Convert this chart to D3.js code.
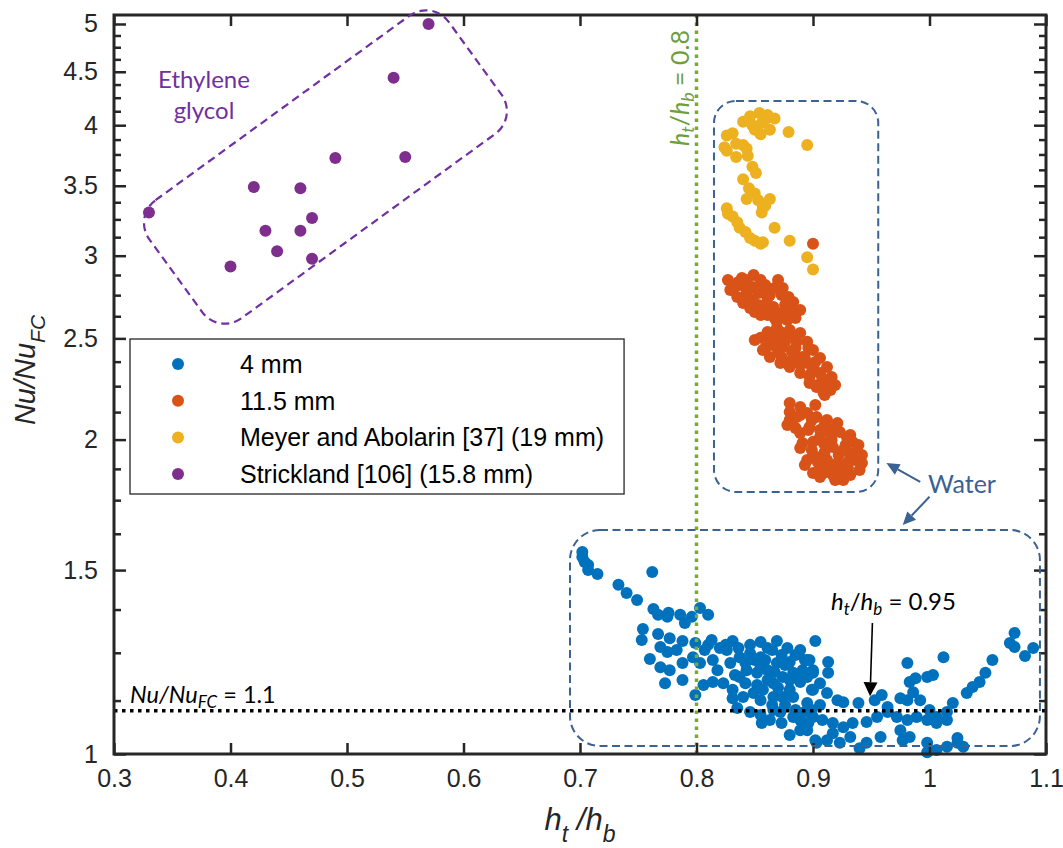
<!DOCTYPE html>
<html><head><meta charset="utf-8">
<script src="https://cdn.jsdelivr.net/npm/d3@7"></script>
<style>body{margin:0;background:#fff}svg{display:block}</style>
</head><body><svg id="c" width="1063" height="848"></svg>
<script>
// ---------------- data ----------------
const xTicks = [0.3, 0.4, 0.5, 0.6, 0.7, 0.8, 0.9, 1, 1.1];
const yTicks = [1, 1.5, 2, 2.5, 3, 3.5, 4, 4.5, 5];
const yMinor = [1.125,1.25,1.375,1.625,1.75,1.875,2.125,2.25,2.375,2.625,2.75,2.875,3.125,3.25,3.375,3.625,3.75,3.875,4.125,4.25,4.375,4.625,4.75,4.875];
const seriesNames = ["4 mm", "11.5 mm", "Meyer and Abolarin [37] (19 mm)", "Strickland [106] (15.8 mm)"];
const seriesColors = ["#0072bd", "#d95319", "#edb120", "#7e2f8e"];

const data4mm = [
[0.702,1.561],[0.702,1.544],[0.704,1.527],[0.707,1.517],[0.707,1.500],[0.715,1.487],[0.762,1.494],[0.733,1.452],[0.740,1.426],[0.749,1.404],
[0.763,1.377],[0.767,1.359],[0.776,1.365],[0.775,1.353],[0.786,1.359],[0.790,1.335],[0.796,1.353],[0.803,1.380],[0.810,1.359],
[0.754,1.317],[0.753,1.286],[0.767,1.303],[0.777,1.291],[0.788,1.283],[0.799,1.277],[0.810,1.272],[0.831,1.283],[0.869,1.283],[0.902,1.283],
[0.769,1.266],[0.775,1.252],[0.783,1.258],[0.760,1.233],[0.769,1.211],[0.777,1.203],[0.773,1.169],[0.788,1.177],[0.788,1.222],[0.797,1.238],
[0.799,1.139],[0.806,1.164],[0.803,1.222],[0.814,1.230],[0.818,1.203],[0.826,1.258],[0.820,1.263],[0.814,1.172],[0.823,1.169],[0.829,1.222],
[0.837,1.238],[0.846,1.249],[0.855,1.238],[0.861,1.263],[0.878,1.263],[0.889,1.258],[0.895,1.230],[0.831,1.152],[0.831,1.131],[0.840,1.134],
[0.849,1.144],[0.857,1.152],[0.866,1.169],[0.874,1.185],[0.883,1.196],[0.891,1.203],[0.843,1.203],[0.852,1.196],[0.861,1.203],[0.869,1.222],
[0.880,1.225],[0.835,1.107],[0.846,1.097],[0.855,1.090],[0.856,1.071],[0.866,1.102],[0.873,1.071],[0.880,1.043],[0.889,1.054],[0.883,1.085],
[0.896,1.071],[0.900,1.085],[0.895,1.119],[0.883,1.134],[0.900,1.152],[0.902,1.031],[0.837,1.185],[0.866,1.134],[0.874,1.134],[0.900,1.196],
[0.880,1.152],[0.855,1.211],
[0.897,1.230],[0.913,1.225],[0.913,1.196],[0.900,1.203],[0.895,1.185],[0.906,1.169],[0.912,1.144],[0.921,1.126],[0.926,1.121],[0.939,1.119],
[0.953,1.126],[0.959,1.139],[0.964,1.109],[0.975,1.131],[0.981,1.126],[0.981,1.222],[0.983,1.172],[0.988,1.182],[0.998,1.185],[1.003,1.190],
[1.012,1.238],[0.986,1.146],[0.992,1.126],[1.000,1.102],[1.006,1.085],[1.015,1.097],[1.020,1.119],[1.032,1.144],[1.037,1.159],[1.043,1.172],
[1.048,1.196],[1.054,1.230],[1.069,1.277],[1.073,1.306],[1.073,1.266],[1.082,1.241],[1.089,1.263],
[0.889,1.078],[0.895,1.054],[0.903,1.025],[0.917,1.071],[0.926,1.061],[0.934,1.071],[0.946,1.073],[0.955,1.085],[0.964,1.097],[0.972,1.085],
[0.981,1.078],[0.989,1.085],[0.998,1.078],[1.006,1.071],[1.015,1.078],[0.917,1.047],[0.932,1.038],[0.946,1.025],[0.958,1.038],[0.975,1.054],
[0.977,1.031],[0.983,1.038],[0.998,1.025],[1.006,1.009],[1.015,1.016],[1.024,1.025],[1.029,1.016],[0.998,1.004],[1.024,1.036],[0.940,1.013],
[0.912,1.031],[0.923,1.025],
[0.807,1.258],[0.813,1.286],[0.825,1.272],[0.836,1.263],[0.846,1.272],[0.855,1.280],[0.865,1.258],[0.873,1.244],[0.885,1.244],[0.842,1.222],
[0.850,1.230],[0.859,1.230],[0.867,1.198],[0.876,1.217],[0.886,1.190],[0.893,1.230],[0.833,1.190],[0.842,1.169],[0.852,1.164],[0.861,1.177],
[0.870,1.157],[0.880,1.177],[0.889,1.172],[0.899,1.152],[0.855,1.126],[0.865,1.114],[0.876,1.114],[0.885,1.102],[0.893,1.097],[0.899,1.102],
[0.906,1.114],[0.908,1.078],[0.863,1.078],[0.872,1.097]
];

const data11mm = [
[0.827,2.843],[0.831,2.781],[0.839,2.856],[0.849,2.875],[0.855,2.843],[0.835,2.739],[0.840,2.703],[0.846,2.673],[0.850,2.650],[0.843,2.769],
[0.853,2.763],[0.861,2.733],[0.870,2.843],[0.874,2.794],[0.879,2.739],[0.883,2.709],[0.889,2.662],[0.866,2.679],[0.872,2.644],[0.880,2.662],
[0.869,2.592],[0.878,2.603],[0.885,2.615],[0.861,2.781],[0.837,2.812],[0.857,2.794],
[0.829,2.781],[0.836,2.831],[0.843,2.843],[0.848,2.800],[0.855,2.781],[0.842,2.739],[0.848,2.721],[0.853,2.691],[0.859,2.691],[0.863,2.751],
[0.867,2.794],[0.873,2.751],[0.876,2.691],[0.882,2.650],[0.855,2.632],[0.861,2.632],[0.867,2.615],[0.844,2.781],[0.833,2.806],[0.859,2.812],
[0.850,2.491],[0.861,2.536],[0.869,2.558],[0.880,2.547],[0.889,2.530],[0.895,2.481],[0.900,2.437],[0.906,2.394],[0.912,2.347],[0.916,2.296],
[0.919,2.256],[0.909,2.217],[0.903,2.246],[0.897,2.296],[0.889,2.316],[0.880,2.347],[0.872,2.368],[0.863,2.399],[0.857,2.437],[0.866,2.475],
[0.874,2.453],[0.883,2.437],[0.891,2.399],[0.900,2.347],[0.878,2.508],[0.869,2.508],[0.906,2.316],[0.886,2.383],[0.895,2.368],
[0.855,2.503],[0.861,2.519],[0.872,2.536],[0.880,2.519],[0.865,2.464],[0.876,2.481],[0.886,2.481],[0.896,2.448],[0.859,2.448],[0.870,2.426],
[0.882,2.426],[0.893,2.394],[0.902,2.373],[0.879,2.373],[0.889,2.358],[0.899,2.321],[0.908,2.291],[0.913,2.256],[0.904,2.256],[0.897,2.266],
[0.910,2.207],[0.915,2.231],[0.863,2.491],[0.885,2.448],[0.873,2.399],
[0.880,2.168],[0.889,2.149],[0.878,2.065],[0.886,2.102],[0.895,2.121],[0.903,2.102],[0.912,2.088],[0.921,2.074],[0.889,2.029],[0.897,2.056],
[0.906,2.043],[0.915,2.029],[0.923,2.034],[0.929,2.012],[0.934,1.990],[0.891,1.985],[0.900,1.990],[0.909,1.985],[0.917,1.968],[0.926,1.955],
[0.934,1.942],[0.895,1.912],[0.903,1.925],[0.912,1.912],[0.921,1.899],[0.929,1.899],[0.942,1.899],[0.900,1.858],[0.909,1.858],[0.917,1.850],
[0.926,1.842],[0.926,1.830],[0.906,1.883],[0.932,1.925],
[0.880,2.125],[0.889,2.112],[0.899,2.088],[0.910,2.065],[0.919,2.052],[0.932,2.020],[0.939,1.976],[0.942,1.933],[0.885,2.052],[0.896,2.043],
[0.906,2.012],[0.916,1.998],[0.928,1.976],[0.936,1.912],[0.889,1.963],[0.899,1.955],[0.910,1.946],[0.922,1.933],[0.930,1.878],[0.893,1.891],
[0.904,1.904],[0.915,1.891],[0.923,1.870],[0.932,1.850],[0.906,1.842],[0.919,1.830],[0.940,1.870],[0.880,2.088],[0.902,2.158],
[0.900,3.080]
];

const dataMeyer = [
[0.840,4.03],[0.846,4.08],[0.854,4.11],[0.861,4.09],[0.867,4.06],[0.848,4.00],[0.856,4.02],[0.863,3.96],[0.855,3.92],[0.850,3.96],
[0.859,4.05],[0.879,3.94],[0.895,3.83],[0.826,3.91],[0.831,3.93],[0.824,3.81],[0.826,3.78],[0.834,3.84],[0.840,3.83],[0.843,3.80],
[0.834,3.73],[0.844,3.74],[0.848,3.65],[0.851,3.60],[0.840,3.55],[0.845,3.48],[0.843,3.40],[0.850,3.44],[0.853,3.39],[0.863,3.40],
[0.857,3.34],[0.856,3.30],[0.859,3.35],[0.826,3.33],[0.827,3.29],[0.831,3.27],[0.835,3.23],[0.837,3.19],[0.842,3.16],[0.846,3.12],
[0.850,3.10],[0.855,3.08],[0.857,3.09],[0.867,3.19],[0.880,3.10],[0.895,2.99],[0.900,2.91]
];

const dataStrick = [
[0.33,3.30],[0.40,2.93],[0.42,3.49],[0.43,3.17],[0.44,3.03],[0.46,3.48],[0.46,3.17],[0.47,3.26],[0.47,2.98],[0.49,3.72],[0.54,4.44],[0.55,3.73],[0.57,5.00]
];

// ---------------- chart ----------------
const svg = d3.select("#c");
const L = 114, R = 1046, T = 15, B = 754;
const x = d3.scaleLinear().domain([0.3, 1.1]).range([L, R]);
const y = d3.scaleLog().domain([1, 5.1]).range([B, T]);
const axisCol = "#262626";
const tickFont = "'Liberation Sans', Arial, Helvetica, sans-serif";
const annFont = "Lato, 'Open Sans', sans-serif";
const fmt = d => String(+d.toFixed(2));
const R0 = 6;

// points
const allSeries = [data4mm, data11mm, dataMeyer, dataStrick];
allSeries.forEach((s, i) => {
  svg.append("g").selectAll("circle").data(s).join("circle")
    .attr("cx", d => x(d[0])).attr("cy", d => y(d[1])).attr("r", R0)
    .attr("fill", seriesColors[i]);
});

// reference lines
svg.append("line").attr("x1", x(0.8)).attr("x2", x(0.8)).attr("y1", B).attr("y2", T)
  .attr("stroke", "#77ac30").attr("stroke-width", 3.5).attr("stroke-dasharray", "3.5,4.5");
svg.append("line").attr("x1", L).attr("x2", R).attr("y1", y(1.1)).attr("y2", y(1.1))
  .attr("stroke", "#000").attr("stroke-width", 3.5).attr("stroke-dasharray", "3.5,4.5");

// axes
const gx = svg.append("g").attr("transform", `translate(0,${B})`)
  .call(d3.axisBottom(x).tickValues(xTicks).tickFormat(fmt).tickSizeInner(-11).tickSizeOuter(0).tickPadding(15));
const gxt = svg.append("g").attr("transform", `translate(0,${T})`)
  .call(d3.axisTop(x).tickValues(xTicks).tickFormat("").tickSizeInner(-11).tickSizeOuter(0));
const gy = svg.append("g").attr("transform", `translate(${L},0)`)
  .call(d3.axisLeft(y).tickValues(yTicks).tickFormat(fmt).tickSizeInner(-12).tickSizeOuter(0).tickPadding(16));
const gym = svg.append("g").attr("transform", `translate(${L},0)`)
  .call(d3.axisLeft(y).tickValues(yMinor).tickFormat("").tickSizeInner(-7).tickSizeOuter(0));
const gyr = svg.append("g").attr("transform", `translate(${R},0)`)
  .call(d3.axisRight(y).tickValues(yTicks).tickFormat("").tickSizeInner(-12).tickSizeOuter(0));
const gyrm = svg.append("g").attr("transform", `translate(${R},0)`)
  .call(d3.axisRight(y).tickValues(yMinor).tickFormat("").tickSizeInner(-7).tickSizeOuter(0));
[gx, gxt, gy, gym, gyr, gyrm].forEach(g => {
  g.select(".domain").remove();
  g.selectAll(".tick line").attr("stroke", axisCol).attr("stroke-width", 2.5);
  g.selectAll(".tick text").attr("fill", axisCol).style("font-family", tickFont).style("font-size", "25px");
});
svg.append("rect").attr("x", L).attr("y", T).attr("width", R - L).attr("height", B - T)
  .attr("fill", "none").attr("stroke", axisCol).attr("stroke-width", 3);

// axis labels
const xl = svg.append("text").attr("x", (L + R) / 2).attr("y", 830).attr("text-anchor", "middle")
  .style("font-family", tickFont).style("font-size", "31px").style("font-style", "italic").attr("fill", axisCol);
xl.append("tspan").text("h");
xl.append("tspan").text("t").attr("dy", 12).style("font-size", "23px");
xl.append("tspan").text(" /h").attr("dy", -12);
xl.append("tspan").text("b").attr("dy", 12).style("font-size", "23px");

const yl = svg.append("text").attr("transform", `translate(35,370) rotate(-90)`).attr("text-anchor", "middle")
  .style("font-family", tickFont).style("font-size", "29px").style("font-style", "italic").attr("fill", axisCol);
yl.append("tspan").text("Nu/Nu");
yl.append("tspan").text("FC").attr("dy", 10).style("font-size", "21px");

// legend
const lg = svg.append("g");
const lgBox = lg.append("rect").attr("x", 130).attr("y", 339).attr("height", 155)
  .attr("fill", "#fff").attr("stroke", axisCol).attr("stroke-width", 1.3);
let maxW = 0;
seriesNames.forEach((n, i) => {
  const yy = 364 + i * 36.7;
  lg.append("circle").attr("cx", 178).attr("cy", yy).attr("r", R0).attr("fill", seriesColors[i]);
  const t = lg.append("text").attr("x", 240).attr("y", yy).attr("dy", "0.36em").text(n)
    .style("font-family", tickFont).style("font-size", "25px").attr("fill", "#000");
  maxW = Math.max(maxW, t.node().getComputedTextLength());
});
lgBox.attr("width", 240 + maxW + 20 - 130);

// ---- annotations ----
const egC = [0.4815, 3.648];
svg.append("rect").attr("x", -185).attr("y", -73).attr("width", 370).attr("height", 146).attr("rx", 28)
  .attr("transform", `translate(${x(egC[0])},${y(egC[1])}) rotate(-36)`)
  .attr("fill", "none").attr("stroke", "#7030a0").attr("stroke-width", 2.2).attr("stroke-dasharray", "8,5");
const eg = svg.append("text").attr("text-anchor", "middle")
  .style("font-family", annFont).style("font-size", "24px").attr("fill", "#7030a0");
eg.append("tspan").attr("x", 204).attr("y", 88).text("Ethylene");
eg.append("tspan").attr("x", 204).attr("y", 119).text("glycol");

const waterCol = "#3a6292";
function dashBox(x0, x1, y0, y1, r) {
  svg.append("rect").attr("x", x(x0)).attr("y", y(y1)).attr("width", x(x1) - x(x0)).attr("height", y(y0) - y(y1))
    .attr("rx", r).attr("fill", "none").attr("stroke", waterCol).attr("stroke-width", 2).attr("stroke-dasharray", "8,4.5");
}
dashBox(0.815, 0.956, 1.782, 4.22, 22);
dashBox(0.6914, 1.0948, 1.0178, 1.6386, 30);

function arrow(x0, y0, x1, y1, col, w, hl, hw) {
  const X0 = x(x0), Y0 = y(y0), X1 = x(x1), Y1 = y(y1);
  const a = Math.atan2(Y1 - Y0, X1 - X0);
  const bx = X1 - hl * Math.cos(a), by = Y1 - hl * Math.sin(a);
  svg.append("line").attr("x1", X0).attr("y1", Y0).attr("x2", bx).attr("y2", by)
    .attr("stroke", col).attr("stroke-width", w);
  const px = -Math.sin(a) * hw / 2, py = Math.cos(a) * hw / 2;
  svg.append("path").attr("d", `M${X1},${Y1}L${bx + px},${by + py}L${bx - px},${by - py}Z`).attr("fill", col);
}
arrow(0.992, 1.822, 0.963, 1.899, waterCol, 2, 13, 12);
arrow(1.0, 1.763, 0.977, 1.657, waterCol, 2, 13, 12);
svg.append("text").attr("x", 928).attr("y", 493).text("Water")
  .style("font-family", annFont).style("font-size", "25px").attr("fill", waterCol);

arrow(0.951, 1.335, 0.949, 1.136, "#000", 1.6, 14, 14);
function mathLabel(sel, tail, small) {
  sel.append("tspan").text("h").style("font-style", "italic");
  sel.append("tspan").text("t").attr("dy", 5).style("font-size", small).style("font-style", "italic");
  sel.append("tspan").text("/").attr("dy", -5);
  sel.append("tspan").text("h").style("font-style", "italic");
  sel.append("tspan").text("b").attr("dy", 5).style("font-size", small).style("font-style", "italic");
  sel.append("tspan").text(tail).attr("dy", -5);
}
const t95 = svg.append("text").attr("x", 831).attr("y", 610)
  .style("font-family", annFont).style("font-size", "24px").attr("fill", "#000");
mathLabel(t95, " = 0.95", "17px");

const t11 = svg.append("text").attr("x", 130).attr("y", 703)
  .style("font-family", annFont).style("font-size", "23.5px").attr("fill", "#000");
t11.append("tspan").text("Nu/Nu").style("font-style", "italic");
t11.append("tspan").text("FC").attr("dy", 5).style("font-size", "17px").style("font-style", "italic");
t11.append("tspan").text(" = 1.1").attr("dy", -5);

const t08 = svg.append("text").attr("transform", `translate(${x(0.8) - 8},146) rotate(-90)`)
  .style("font-family", annFont).style("font-size", "25px").attr("fill", "#6f9e3e");
mathLabel(t08, " = 0.8", "18px");
</script></body></html>
